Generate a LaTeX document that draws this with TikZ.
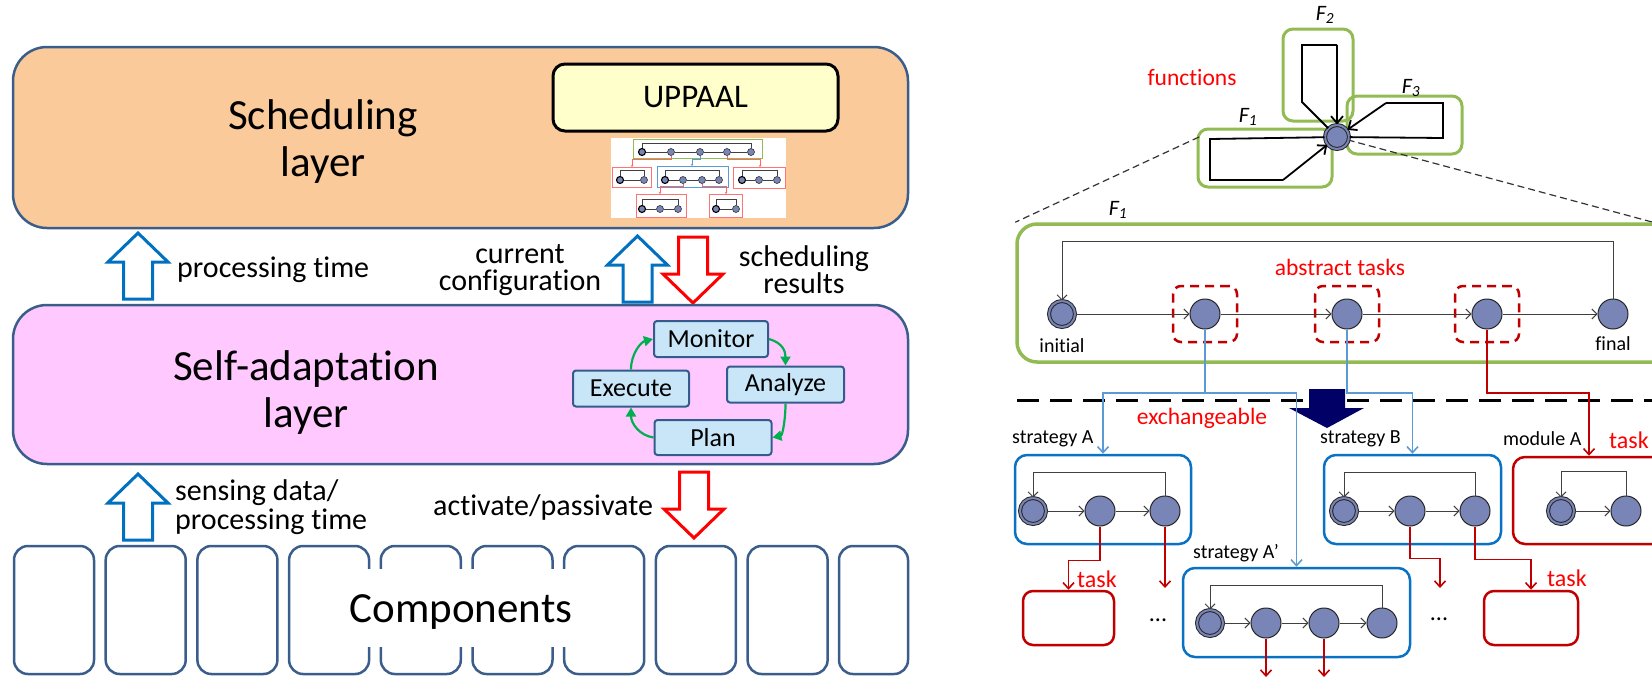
\documentclass[tikz,border=0pt]{standalone}
\usepackage{fontspec}
\setmainfont{Carlito}[Ligatures=NoCommon]
\usetikzlibrary{arrows.meta}

\definecolor{layerEdge}{HTML}{3A5D8B}
\definecolor{schedFill}{HTML}{FBCA9A}
\definecolor{adaptFill}{HTML}{FFC9FF}
\definecolor{mapeFill}{HTML}{C9E6F9}
\definecolor{mapeEdge}{HTML}{335C8C}
\definecolor{loopGreen}{HTML}{00B050}
\definecolor{upBlue}{HTML}{0070C0}
\definecolor{downRed}{HTML}{FF0000}
\definecolor{uppFill}{HTML}{FFFFCC}
\definecolor{fnGreen}{HTML}{92BC53}
\definecolor{stateFill}{HTML}{7885B6}
\definecolor{taskRed}{HTML}{C00000}
\definecolor{stratBlue}{HTML}{0A72C4}
\definecolor{linkBlue}{HTML}{5B9BD5}
\definecolor{navyArrow}{HTML}{000066}
\definecolor{noteRed}{HTML}{FF0000}

\tikzset{
  layerbox/.style={draw=layerEdge, line width=2.5pt, rounded corners=34pt, inner sep=0pt},
  bigtxt/.style={font=\fontsize{43}{47}\selectfont, align=center, inner sep=0pt},
  lbl/.style={font=\fontsize{30}{27}\selectfont, inner sep=0pt},
  mape/.style={draw=mapeEdge, fill=mapeFill, line width=2pt, rounded corners=3pt,
    minimum height=36pt, font=\fontsize{26}{26}\selectfont, inner sep=0pt},
  loopedge/.style={draw=loopGreen, line width=2.2pt, -{Triangle[length=9pt,width=10pt]}},
  compbox/.style={draw=layerEdge, line width=2.5pt, rounded corners=14pt,
    minimum height=128pt, inner sep=0pt},
  uparr/.pic={\draw[line width=3pt, fill=white, line join=miter]
    (0,0) -- (30,29) -- (14.5,29) -- (14.5,66) -- (-14.5,66) -- (-14.5,29) -- (-30,29) -- cycle;},
  downarr/.pic={\draw[line width=3pt, fill=white, line join=miter]
    (-14.5,0) -- (14.5,0) -- (14.5,37) -- (30,37) -- (0,66) -- (-30,37) -- (-14.5,37) -- cycle;},
  mini/.style={circle, draw=black!80, fill=stateFill, minimum size=7pt, inner sep=0pt, line width=0.6pt},
  miniinit/.style={mini, line width=1.1pt, draw=black},
  minibox/.style={line width=0.9pt},
  miniline/.style={draw=black!75, line width=0.8pt},
  minilink/.style={line width=0.7pt, -{Stealth[length=2pt,width=2.5pt]}},
  fnbox/.style={draw=fnGreen, line width=3pt, rounded corners=10pt, inner sep=0pt},
  fnline/.style={draw=black, line width=1.8pt, line join=miter},
  fnarrow/.style={fnline, -{Straight Barb[length=7pt,width=12pt]}},
  flabel/.style={font=\fontsize{22}{22}\selectfont\itshape, inner sep=0pt},
  gdash/.style={draw=black!80, line width=1.2pt, dash pattern=on 7pt off 4pt},
  state/.style={circle, draw=black!85, fill=stateFill, minimum size=30pt, inner sep=0pt, line width=1pt},
  initstate/.style={state, double=stateFill, double distance=2pt, minimum size=26pt},
  autedge/.style={draw=black!75, line width=1pt, -{Straight Barb[length=5pt,width=10pt]}},
  abox/.style={draw=taskRed, line width=2.5pt, dash pattern=on 9pt off 6pt, rounded corners=8pt,
    minimum width=64pt, minimum height=56pt, inner sep=0pt},
  blink/.style={draw=linkBlue, line width=1.6pt, -{Straight Barb[length=6pt,width=11pt]}},
  rlink/.style={draw=taskRed, line width=1.6pt, -{Straight Barb[length=6pt,width=11pt]}},
  stratbox/.style={draw=stratBlue, line width=2.5pt, rounded corners=12pt, inner sep=0pt},
  modbox/.style={draw=taskRed, line width=2.5pt, rounded corners=12pt, inner sep=0pt},
  small/.style={font=\fontsize{20}{22}\selectfont, inner sep=0pt},
  note/.style={font=\fontsize{23.5}{26}\selectfont, text=noteRed, inner sep=0pt},
  separator/.style={draw=black, line width=3pt, dash pattern=on 22pt off 11pt},
}

\begin{document}
\begin{tikzpicture}[x=1pt, y=-1pt]
\useasboundingbox (0,0) rectangle (1652,681);
\clip (0,0) rectangle (1652,681);

% ===================== layered architecture =====================
% scheduling layer
\node[layerbox, fill=schedFill, minimum width=895pt, minimum height=181pt] (sched) at (460.5,137.5) {};
\node[bigtxt] (schedtxt) at (323,142) {Scheduling\\layer};
\node[draw=black, line width=3pt, fill=uppFill, rounded corners=12pt, minimum width=285pt,
      minimum height=67pt, font=\fontsize{33}{33}\selectfont] (uppaal) at (695.5,97.5) {UPPAAL};

% small network of automata under the model checker
\fill[white] (611,138) rectangle (786,218);
\draw[minibox, draw=fnGreen] (633,139) rectangle (762,158);
\draw[minibox, draw=red!55] (612,167) rectangle (651,187);
\draw[minibox, draw=linkBlue] (657,166) rectangle (728,187);
\draw[minibox, draw=red!55] (733,167) rectangle (785,188);
\draw[minibox, draw=red!55] (636,194) rectangle (686,217);
\draw[minibox, draw=red!55] (709,194) rectangle (742,217);
\node[miniinit] (g1) at (642,152) {};
\foreach \n/\x in {g2/671,g3/700,g4/727,g5/751} \node[mini] (\n) at (\x,152) {};
\node[miniinit] (r1) at (620,180) {};
\node[mini] (r2) at (644,180) {};
\node[miniinit] (b1) at (665,180) {};
\foreach \n/\x in {b2/683,b3/702,b4/719} \node[mini] (\n) at (\x,180) {};
\node[miniinit] (q1) at (742,180) {};
\foreach \n/\x in {q2/759,q3/777} \node[mini] (\n) at (\x,180) {};
\node[miniinit] (p1) at (642,209) {};
\foreach \n/\x in {p2/660,p3/678} \node[mini] (\n) at (\x,209) {};
\node[miniinit] (s1) at (716,209) {};
\node[mini] (s2) at (736,209) {};
\draw[miniline] (g1) -- (g2) -- (g3) -- (g4) -- (g5);
\draw[miniline] (g5.north) -- ++(0,-5) -| (g1.north);
\draw[miniline] (r1) -- (r2);
\draw[miniline] (r2.north) -- ++(0,-6) -| (r1.north);
\draw[miniline] (b1) -- (b2) -- (b3) -- (b4);
\draw[miniline] (b4.north) -- ++(0,-6) -| (b1.north);
\draw[miniline] (q1) -- (q2) -- (q3);
\draw[miniline] (q3.north) -- ++(0,-6) -| (q1.north);
\draw[miniline] (p1) -- (p2) -- (p3);
\draw[miniline] (p3.north) -- ++(0,-6) -| (p1.north);
\draw[miniline] (s1) -- (s2);
\draw[miniline] (s2.north) -- ++(0,-6) -| (s1.north);
\coordinate (mr1) at (632,167);
\coordinate (mb1) at (692,166);
\coordinate (mr2) at (760,167);
\coordinate (mp1) at (660,194);
\coordinate (ms1) at (726,194);
\draw[minilink, draw=red!60] (g2.south) -- ++(0,4) -| (mr1);
\draw[minilink, draw=linkBlue] (g3.south) -- ++(0,4) -| (mb1);
\draw[minilink, draw=red!60] (g4.south) -- ++(0,4) -| (mr2);
\draw[minilink, draw=red!60] (b2.south) -- ++(0,3) -| (mp1);
\draw[minilink, draw=red!60] (b3.south) -- ++(0,3) -| (ms1);

% interaction between scheduling and self-adaptation
\pic[color=upBlue] at (138,233) {uparr};
\node[lbl, anchor=west] (ptime) at (177,270) {processing time};
\node[lbl, align=center] (curconf) at (520,270) {current\\configuration};
\pic[color=upBlue] at (637.5,236) {uparr};
\pic[color=downRed] at (693,237) {downarr};
\node[lbl, align=center] (schres) at (804,270) {scheduling\\results};

% self-adaptation layer with the MAPE loop
\node[layerbox, fill=adaptFill, minimum width=895pt, minimum height=159pt] (adapt) at (460.5,384.5) {};
\node[bigtxt] (adapttxt) at (306,393) {Self-adaptation\\layer};
\node[mape, minimum width=114pt] (mon) at (711,339) {Monitor};
\node[mape, minimum width=117pt] (ana) at (785.5,384.5) {Analyze};
\node[mape, minimum width=116pt] (exe) at (631,388.5) {Execute};
\node[mape, minimum width=117pt, minimum height=35pt] (plan) at (713,437.5) {Plan};
\draw[loopedge] (mon.east) .. controls +(14,4) and +(0,-14) .. (ana.north);
\draw[loopedge] (ana.south) .. controls +(0,16) and +(10,-2) .. (plan.east);
\draw[loopedge] (plan.west) .. controls +(-14,-2) and +(0,16) .. (exe.south);
\draw[loopedge] (exe.north) .. controls +(0,-16) and +(-12,3) .. (mon.west);

% interaction between self-adaptation and components
\pic[color=upBlue] at (138,474) {uparr};
\node[lbl, align=left, anchor=west, font=\fontsize{30}{29}\selectfont] (sense) at (175,507) {sensing data/\\processing time};
\node[lbl, anchor=west] (actpas) at (433,507) {activate/passivate};
\pic[color=downRed] at (694,472) {downarr};

% components
\foreach \i in {0,...,8} \node[compbox, minimum width=80pt] (c\i) at (54+91.7*\i,610) {};
\node[compbox, minimum width=69pt] (c9) at (873.5,610) {};
\fill[white] (361,569) rectangle (571,647);
\node[font=\fontsize{43}{43}\selectfont, inner sep=0pt] (comptxt) at (461,612) {Components};

% ===================== function / task structure =====================
% overview of the functions
\coordinate (dl) at (1199,137);
\coordinate (dr) at (1652,222);
\coordinate (hubc) at (1337,137);
\node[fnbox, minimum width=70pt, minimum height=92pt] (F2box) at (1318,75) {};
\node[fnbox, minimum width=115pt, minimum height=58pt] (F3box) at (1404.5,125) {};
\node[fnbox, minimum width=134pt, minimum height=58pt] (F1box) at (1265,158) {};
\node[fnbox, line width=3.5pt, rounded corners=20pt, minimum width=655pt, minimum height=138pt] (F1big) at (1344.5,293) {};
\draw[gdash] (dl) -- (F1big.north west);
\draw[gdash] (hubc) -- (dr);
\node[note] (fnlabel) at (1192,77) {functions};
\node[flabel] (lF2) at (1325,15) {F\textsubscript{2}};
\node[flabel] (lF3) at (1411,88) {F\textsubscript{3}};
\node[flabel] (lF1) at (1248,117) {F\textsubscript{1}};
\node[initstate, minimum size=24pt] (hub) at (hubc) {};
\coordinate (f2a) at (1302,45);
\coordinate (f2b) at (1337,45);
\coordinate (f2c) at (1302,102);
\draw[fnline] (f2b) -- (f2a) -- (f2c) -- (hub);
\draw[fnarrow] (f2b) -- (hub);
\coordinate (f3a) at (1443,138);
\coordinate (f3b) at (1443,103);
\coordinate (f3c) at (1386,103);
\draw[fnline] (hub) -- (f3a) -- (f3b) -- (f3c);
\draw[fnarrow] (f3c) -- (hub);
\coordinate (f1a) at (1210,139);
\coordinate (f1b) at (1210,180);
\coordinate (f1c) at (1283,180);
\draw[fnline] (hub) -- (f1a) -- (f1b) -- (f1c);
\draw[fnarrow] (f1c) -- (hub);

% detail of F1
\node[flabel] (lF1big) at (1118,210) {F\textsubscript{1}};
\node[note] (abstr) at (1340,267) {abstract tasks};
\node[initstate] (ini) at (1062,314) {};
\node[state] (t1) at (1205,314) {};
\node[state] (t2) at (1347,314) {};
\node[state] (t3) at (1487,314) {};
\node[state] (fin) at (1613,314) {};
\node[abox] (a1) at (t1) {};
\node[abox] (a2) at (t2) {};
\node[abox] (a3) at (t3) {};
\draw[autedge] (ini) -- (t1);
\draw[autedge] (t1) -- (t2);
\draw[autedge] (t2) -- (t3);
\draw[autedge] (t3) -- (fin);
\draw[autedge] (fin.north) -- ++(0,-57) -| (ini.north);
\node[small] (initlbl) at (1062,346) {initial};
\node[small] (finlbl) at (1613,344) {final};

% exchangeable implementations
\draw[separator] (1017,400) -- (1660,400);
\fill[navyArrow] (1309,389) -- (1345,389) -- (1345,408) -- (1364,408) -- (1327,428)
  -- (1289,408) -- (1309,408) -- cycle;
\node[note] (exch) at (1202,418) {exchangeable};

\node[stratbox, minimum width=176pt, minimum height=89pt] (sA) at (1103,499.5) {};
\node[stratbox, minimum width=177pt, minimum height=89pt] (sB) at (1412.5,499.5) {};
\node[modbox, minimum width=152pt, minimum height=87pt] (mA) at (1589,500.5) {};
\node[stratbox, minimum width=227pt, minimum height=89pt] (sAp) at (1296.5,612.5) {};
\node[modbox, rounded corners=10pt, minimum width=91pt, minimum height=54pt] (tL) at (1068.5,618) {};
\node[modbox, rounded corners=10pt, minimum width=94pt, minimum height=54pt] (tR) at (1531,618) {};

\node[small, anchor=west] (lsA) at (1012,439) {strategy A};
\node[small, anchor=west] (lsB) at (1320,439) {strategy B};
\node[small, anchor=west] (lmA) at (1503,439) {module A};
\node[small, anchor=west] (lsAp) at (1193,553) {strategy A’};
\node[note, anchor=west, font=\fontsize{24}{26}\selectfont] (taskA) at (1609,440) {task};
\node[note, anchor=west, font=\fontsize{24}{26}\selectfont] (taskB) at (1077,579) {task};
\node[note, anchor=west, font=\fontsize{24}{26}\selectfont] (taskC) at (1547,578) {task};
\node[font=\fontsize{24}{26}\selectfont, inner sep=0pt] (dots1) at (1158,620) {...};
\node[font=\fontsize{24}{26}\selectfont, inner sep=0pt] (dots2) at (1439,619) {...};

% links from abstract tasks to their implementations
\coordinate (j1) at (1205,393);
\coordinate (j2) at (1347,393);
\coordinate (j3) at (1487,393);
\draw[blink] (t1.south) -- (j1) -| (sA.north);
\draw[blink] (j1) -| (sAp.north);
\draw[blink] (t2.south) -- (j2) -| (sB.north);
\draw[rlink] (t3.south) -- (j3) -| (mA.north);

% automata inside the implementations
\node[initstate] (ai) at (1033,511) {};
\node[state] (aa2) at (1100,511) {};
\node[state] (aa3) at (1165,511) {};
\draw[autedge] (ai) -- (aa2);
\draw[autedge] (aa2) -- (aa3);
\draw[autedge] (aa3.north) -- ++(0,-23) -| (ai.north);

\node[initstate] (bi) at (1344,511) {};
\node[state] (bb2) at (1410,511) {};
\node[state] (bb3) at (1475,511) {};
\draw[autedge] (bi) -- (bb2);
\draw[autedge] (bb2) -- (bb3);
\draw[autedge] (bb3.north) -- ++(0,-23) -| (bi.north);

\node[initstate] (mi) at (1561,511) {};
\node[state] (mm2) at (1626,511) {};
\draw[autedge] (mi) -- (mm2);
\draw[autedge] (mm2.north) -- ++(0,-24) -| (mi.north);

\node[initstate] (pi) at (1210,623) {};
\node[state] (pp2) at (1266,623) {};
\node[state] (pp3) at (1324,623) {};
\node[state] (pp4) at (1382,623) {};
\draw[autedge] (pi) -- (pp2);
\draw[autedge] (pp2) -- (pp3);
\draw[autedge] (pp3) -- (pp4);
\draw[autedge] (pp4.north) -- ++(0,-22) -| (pi.north);

% task calls
\coordinate (oA) at (1165,588);
\coordinate (oB) at (1440,588);
\coordinate (oP2) at (1266,677);
\coordinate (oP3) at (1324,677);
\draw[rlink] (aa2.south) -- ++(0,34) -| (tL.north);
\draw[rlink] (aa3.south) -- (oA);
\draw[rlink] (bb2.south) -- ++(0,32) -| (oB);
\draw[rlink] (bb3.south) -- ++(0,33) -| (tR.north);
\draw[rlink] (pp2.south) -- (oP2);
\draw[rlink] (pp3.south) -- (oP3);
\end{tikzpicture}
\end{document}
